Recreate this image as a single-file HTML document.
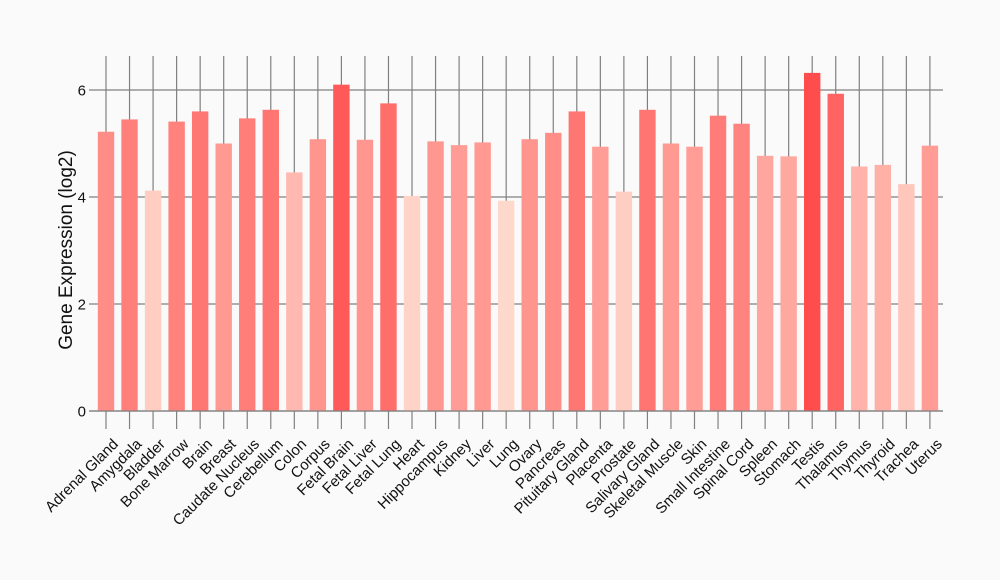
<!DOCTYPE html>
<html><head><meta charset="utf-8"><style>html,body{margin:0;padding:0;background:#fafafa}svg{display:block}</style></head>
<body>
<svg id="c" width="1000" height="580" xmlns="http://www.w3.org/2000/svg" font-family="Liberation Sans, sans-serif"></svg>
<script>
const names=["Adrenal Gland","Amygdala","Bladder","Bone Marrow","Brain","Breast","Caudate Nucleus","Cerebellum","Colon","Corpus","Fetal Brain","Fetal Liver","Fetal Lung","Heart","Hippocampus","Kidney","Liver","Lung","Ovary","Pancreas","Pituitary Gland","Placenta","Prostate","Salivary Gland","Skeletal Muscle","Skin","Small Intestine","Spinal Cord","Spleen","Stomach","Testis","Thalamus","Thymus","Thyroid","Trachea","Uterus"];
const v=[5.22,5.45,4.12,5.41,5.6,5.0,5.47,5.63,4.46,5.08,6.1,5.07,5.75,4.02,5.04,4.97,5.02,3.93,5.08,5.2,5.6,4.94,4.1,5.63,5.0,4.94,5.52,5.37,4.77,4.76,6.32,5.93,4.57,4.6,4.24,4.96];
const y0=411,k=53.5,x0=106,dx=23.54;
let s='<rect width="1000" height="580" fill="#fafafa"/>';
for(let i=0;i<36;i++){const cx=x0+i*dx;s+=`<line x1="${cx}" y1="56" x2="${cx}" y2="429" stroke="#808080" stroke-width="1.2"/>`;}
[0,2,4,6].forEach(t=>{const y=y0-t*k;s+=`<line x1="89" y1="${y}" x2="943" y2="${y}" stroke="#808080" stroke-width="1.2"/><text x="86" y="${y+5.5}" font-size="15" text-anchor="end" fill="#111">${t}</text>`;});
const mn=3.93,mx=6.32;
for(let i=0;i<36;i++){const cx=x0+i*dx,h=v[i]*k,f=(v[i]-mn)/(mx-mn);
const g=Math.round(216-f*(216-77)),b=Math.round(204-f*(204-77));
s+=`<rect x="${cx-8.2}" y="${y0-h}" width="16.4" height="${h}" fill="rgb(255,${g},${b})"/>`;
s+=`<text transform="translate(${cx+13},${445}) rotate(-45)" font-size="15" text-anchor="end" fill="#111">${names[i]}</text>`;}
s+=`<line x1="89" y1="${y0}" x2="943" y2="${y0}" stroke="#808080" stroke-width="1.2"/>`;
s+=`<text transform="translate(72,250) rotate(-90)" font-size="19" text-anchor="middle" fill="#111">Gene Expression (log2)</text>`;
document.getElementById('c').innerHTML=s;
</script>
</body></html>
